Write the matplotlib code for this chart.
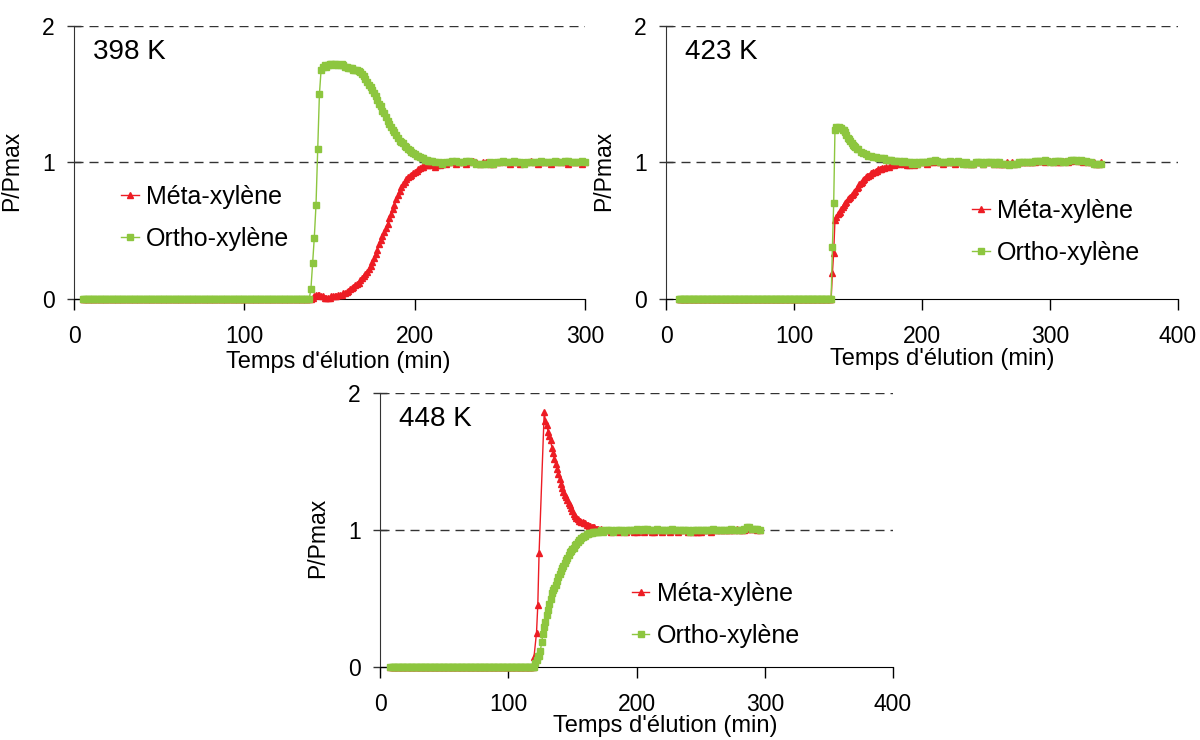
import matplotlib.pyplot as plt

# ---- donnees (temps en min, P/Pmax) ----

# 398 K
t398_meta = list(range(5, 139)) + list(range(139, 221)) + list(range(222, 301, 2))
p398_meta = [0.0] * 134 + [
    0.00, 0.01, 0.02, 0.03, 0.03, 0.03, 0.02, 0.02, 0.01, 0.01,
    0.01, 0.01, 0.02, 0.02, 0.02, 0.02, 0.03, 0.03, 0.03, 0.04,
    0.04, 0.05, 0.06, 0.07, 0.08, 0.09, 0.10, 0.11, 0.12, 0.14,
    0.15, 0.17, 0.18, 0.20, 0.22, 0.24, 0.27, 0.30, 0.33, 0.36,
    0.40, 0.43, 0.46, 0.49, 0.52, 0.55, 0.59, 0.62, 0.66, 0.69,
    0.73, 0.76, 0.79, 0.82, 0.84, 0.86, 0.88, 0.89, 0.90, 0.91,
    0.92, 0.93, 0.94, 0.95, 0.96, 0.97, 0.97, 0.98, 0.98, 0.98,
    0.99, 0.98, 0.99, 0.97, 0.98, 0.99, 0.98, 0.99, 1.00, 0.99,
    1.00, 1.00,
] + [
    1.00, 0.99, 1.00, 1.00, 0.99,
    1.00, 1.01, 1.00, 0.99, 1.00,
    1.00, 0.99, 0.99, 1.00, 1.00,
    1.01, 1.00, 0.99, 1.00, 1.00,
    0.99, 1.00, 1.00, 1.01, 1.00,
    0.99, 1.00, 1.00, 1.00, 0.99,
    1.00, 1.01, 1.00, 1.00, 0.99,
    1.00, 1.00, 1.00, 0.99, 1.00,
]
t398_ortho = list(range(5, 139)) + list(range(139, 211)) + list(range(212, 301, 2))
p398_ortho = [0.0] * 134 + [
    0.07, 0.26, 0.45, 0.69, 1.10, 1.50, 1.68, 1.70, 1.71, 1.70,
    1.71, 1.72, 1.72, 1.71, 1.72, 1.72, 1.71, 1.71, 1.72, 1.71,
    1.70, 1.70, 1.69, 1.69, 1.69, 1.68, 1.68, 1.68, 1.67, 1.66,
    1.65, 1.63, 1.61, 1.59, 1.57, 1.55, 1.53, 1.51, 1.49, 1.46,
    1.43, 1.41, 1.38, 1.36, 1.33, 1.30, 1.28, 1.26, 1.24, 1.22,
    1.20, 1.18, 1.16, 1.15, 1.14, 1.12, 1.11, 1.10, 1.09, 1.08,
    1.07, 1.06, 1.05, 1.05, 1.04, 1.03, 1.03, 1.02, 1.02, 1.01,
    1.01, 1.01,
] + [
    1.00, 1.00, 0.99, 1.00, 1.00,
    1.01, 1.01, 1.00, 1.00, 1.01,
    1.01, 1.00, 0.99, 0.99, 0.99,
    0.99, 1.00, 0.99, 1.00, 1.00,
    1.01, 1.00, 1.00, 1.01, 1.00,
    1.00, 0.99, 1.00, 1.00, 1.00,
    1.00, 1.01, 1.00, 1.00, 1.00,
    1.01, 1.00, 1.00, 1.01, 1.01,
    1.00, 1.00, 1.00, 1.01, 1.00,
]

# 423 K
t423_meta = list(range(10, 129)) + list(range(129, 171)) + list(range(172, 341, 2))
p423_meta = [0.0] * 119 + [
    0.00, 0.19, 0.34, 0.58, 0.60, 0.62, 0.63, 0.64, 0.66, 0.67,
    0.69, 0.70, 0.71, 0.73, 0.74, 0.75, 0.76, 0.77, 0.78, 0.79,
    0.81, 0.82, 0.84, 0.85, 0.86, 0.87, 0.88, 0.89, 0.90, 0.90,
    0.91, 0.92, 0.92, 0.93, 0.93, 0.94, 0.94, 0.95, 0.95, 0.95,
    0.96, 0.96,
] + [
    0.97, 0.97, 0.98, 0.98, 0.99,
    0.99, 1.00, 0.99, 0.98, 0.98,
    0.99, 0.98, 0.99, 1.00, 1.00,
    1.00, 0.99, 1.00, 1.00, 1.01,
    1.00, 1.00, 0.99, 1.00, 1.00,
    1.00, 1.00, 0.99, 1.00, 1.00,
    1.00, 0.99, 1.00, 0.99, 0.99,
    1.00, 1.00, 1.00, 0.99, 1.00,
    1.00, 1.00, 0.99, 1.00, 0.99,
    0.99, 0.99, 1.00, 0.99, 1.00,
    0.99, 1.00, 1.00, 1.00, 1.00,
    1.00, 1.00, 1.00, 1.00, 1.01,
    1.01, 1.01, 1.00, 1.01, 1.01,
    1.00, 1.01, 1.00, 1.00, 1.01,
    1.01, 1.00, 1.01, 1.02, 1.02,
    1.01, 1.01, 1.00, 1.01, 1.00,
    1.00, 1.00, 0.99, 0.99, 1.00,
]
t423_ortho = list(range(10, 129)) + list(range(129, 151)) + list(range(152, 341, 2))
p423_ortho = [0.0] * 119 + [
    0.00, 0.38, 0.70, 1.24, 1.26, 1.25, 1.26, 1.25, 1.25, 1.24,
    1.24, 1.22, 1.20, 1.18, 1.17, 1.16, 1.14, 1.13, 1.12, 1.11,
    1.10, 1.10,
] + [
    1.08, 1.07, 1.06, 1.05, 1.05,
    1.04, 1.04, 1.03, 1.03, 1.03,
    1.02, 1.02, 1.02, 1.01, 1.01,
    1.01, 1.00, 1.01, 1.00, 1.00,
    0.99, 1.00, 0.99, 1.00, 1.00,
    1.00, 1.00, 1.01, 1.01, 1.02,
    1.01, 1.00, 1.00, 1.00, 1.00,
    1.01, 1.00, 1.00, 1.01, 1.00,
    0.99, 1.00, 0.99, 0.99, 0.99,
    1.00, 1.00, 1.00, 0.99, 1.00,
    1.00, 1.00, 0.99, 1.00, 1.00,
    0.99, 0.99, 0.99, 0.98, 0.99,
    0.99, 0.99, 1.00, 1.00, 1.00,
    1.00, 1.00, 1.00, 1.01, 1.01,
    1.01, 1.01, 1.02, 1.01, 1.00,
    1.00, 1.01, 1.01, 1.01, 1.00,
    1.00, 1.01, 1.02, 1.02, 1.02,
    1.01, 1.02, 1.01, 1.01, 1.00,
    1.00, 0.99, 0.99, 0.99, 0.99,
]

# 448 K
t448_meta = (list(range(8, 119)) + [119, 120, 122, 123, 124]
             + list(range(128, 171)) + list(range(172, 297, 2)))
p448_meta = [0.0] * 111 + [0.00, 0.07, 0.25, 0.45, 0.83] + [
    1.86, 1.80, 1.77, 1.72, 1.69, 1.66, 1.60, 1.56, 1.52, 1.48,
    1.45, 1.41, 1.37, 1.34, 1.31, 1.28, 1.26, 1.24, 1.22, 1.20,
    1.18, 1.16, 1.14, 1.12, 1.10, 1.09, 1.08, 1.07, 1.07, 1.06,
    1.06, 1.05, 1.05, 1.04, 1.04, 1.03, 1.03, 1.02, 1.02, 1.02,
    1.01, 1.01, 1.01,
] + [
    1.01, 1.00, 1.00, 1.00, 0.99,
    1.00, 1.00, 0.99, 1.00, 1.00,
    0.99, 1.00, 1.00, 0.99, 0.99,
    1.00, 1.00, 0.99, 1.00, 1.00,
    0.99, 0.99, 1.00, 1.00, 0.99,
    1.00, 1.00, 0.99, 1.00, 1.00,
    0.99, 1.00, 1.00, 1.00, 0.99,
    1.00, 0.99, 0.99, 0.99, 0.99,
    1.00, 1.00, 1.00, 0.99, 1.00,
    1.00, 1.00, 1.00, 1.00, 1.00,
    1.00, 1.00, 1.00, 1.01, 1.00,
    1.00, 1.00, 1.01, 1.01, 1.01,
    1.01, 1.00, 1.00,
]
t448_ortho = list(range(8, 121)) + list(range(121, 171)) + list(range(172, 297, 2))
p448_ortho = [0.0] * 113 + [
    0.03, 0.05, 0.08, 0.08, 0.12, 0.18, 0.24, 0.29, 0.33, 0.38,
    0.42, 0.46, 0.50, 0.54, 0.56, 0.58, 0.60, 0.63, 0.66, 0.68,
    0.70, 0.72, 0.74, 0.76, 0.78, 0.80, 0.82, 0.84, 0.85, 0.86,
    0.87, 0.89, 0.90, 0.91, 0.93, 0.93, 0.94, 0.95, 0.96, 0.96,
    0.97, 0.97, 0.98, 0.98, 0.98, 0.99, 0.99, 0.99, 0.99, 0.99,
] + [
    1.00, 0.99, 1.00, 1.00, 1.00,
    0.99, 1.00, 1.00, 1.00, 0.99,
    1.00, 1.00, 1.00, 1.00, 1.01,
    1.00, 1.00, 1.01, 1.01, 1.00,
    1.00, 1.00, 1.01, 1.00, 1.00,
    1.00, 1.00, 1.00, 1.01, 1.00,
    1.00, 1.00, 1.00, 1.00, 1.00,
    0.99, 1.00, 1.00, 1.00, 1.00,
    1.00, 1.00, 1.00, 1.00, 1.01,
    1.00, 1.00, 1.00, 1.00, 1.00,
    1.00, 1.01, 1.00, 1.00, 1.00,
    1.00, 1.01, 1.02, 1.02, 1.01,
    1.01, 1.01, 1.00,
]

RED = '#ed1c24'
GREEN = '#8dc63f'

plt.rcParams['font.family'] = ['Liberation Sans', 'DejaVu Sans']


def draw_panel(ax, t_m, p_m, t_o, p_o, xmax, title, leg_xy, xlab_xy):
    ax.plot(t_m, p_m, color=RED, marker='^', ms=4, lw=1, label='Méta-xylène', clip_on=False, zorder=3)
    ax.plot(t_o, p_o, color=GREEN, marker='s', ms=3.8, lw=1, label='Ortho-xylène', clip_on=False, zorder=4)
    for y in (1, 2):
        ax.axhline(y, color='#333333', lw=1, ls=(0, (6.5, 4.3)), zorder=1)
    ax.set_xlim(0, xmax)
    ax.set_ylim(0, 2)
    ax.set_xticks(range(0, xmax + 1, 100))
    ax.set_yticks([0, 1, 2])
    ax.spines['top'].set_visible(False)
    ax.spines['right'].set_visible(False)
    ax.spines['left'].set_color('#333333')
    ax.spines['bottom'].set_color('black')
    ax.tick_params(axis='y', direction='inout', length=10, width=1, color='#333333', labelsize=16.5, pad=9)
    ax.tick_params(axis='x', direction='out', length=8, width=1, labelsize=16.5, pad=11)
    ax.set_xlabel("Temps d'élution (min)", fontsize=17)
    ax.xaxis.set_label_coords(*xlab_xy)
    ax.set_ylabel('P/Pmax', fontsize=16.5)
    ax.yaxis.set_label_coords(-0.1, 0.47)
    ax.text(0.037, 0.905, title, transform=ax.transAxes, fontsize=20, va='center')
    ax.legend(loc='center left', bbox_to_anchor=leg_xy, frameon=False, fontsize=18,
              handlelength=0.7, handletextpad=0.3, labelspacing=0.72,
              borderpad=0, borderaxespad=0)


fig = plt.figure(figsize=(12, 7.4), dpi=100)
ax1 = fig.add_axes([0.0617, 0.596, 0.426, 0.369])
ax2 = fig.add_axes([0.555, 0.596, 0.4267, 0.369])
ax3 = fig.add_axes([0.3167, 0.0986, 0.4275, 0.370])

draw_panel(ax1, t398_meta, p398_meta, t398_ortho, p398_ortho, 300, '398 K', (0.092, 0.297), (0.516, -0.19))
draw_panel(ax2, t423_meta, p423_meta, t423_ortho, p423_ortho, 400, '423 K', (0.598, 0.245), (0.54, -0.18))
draw_panel(ax3, t448_meta, p448_meta, t448_ortho, p448_ortho, 400, '448 K', (0.491, 0.19), (0.556, -0.176))

fig.savefig('out.png', dpi=100)
